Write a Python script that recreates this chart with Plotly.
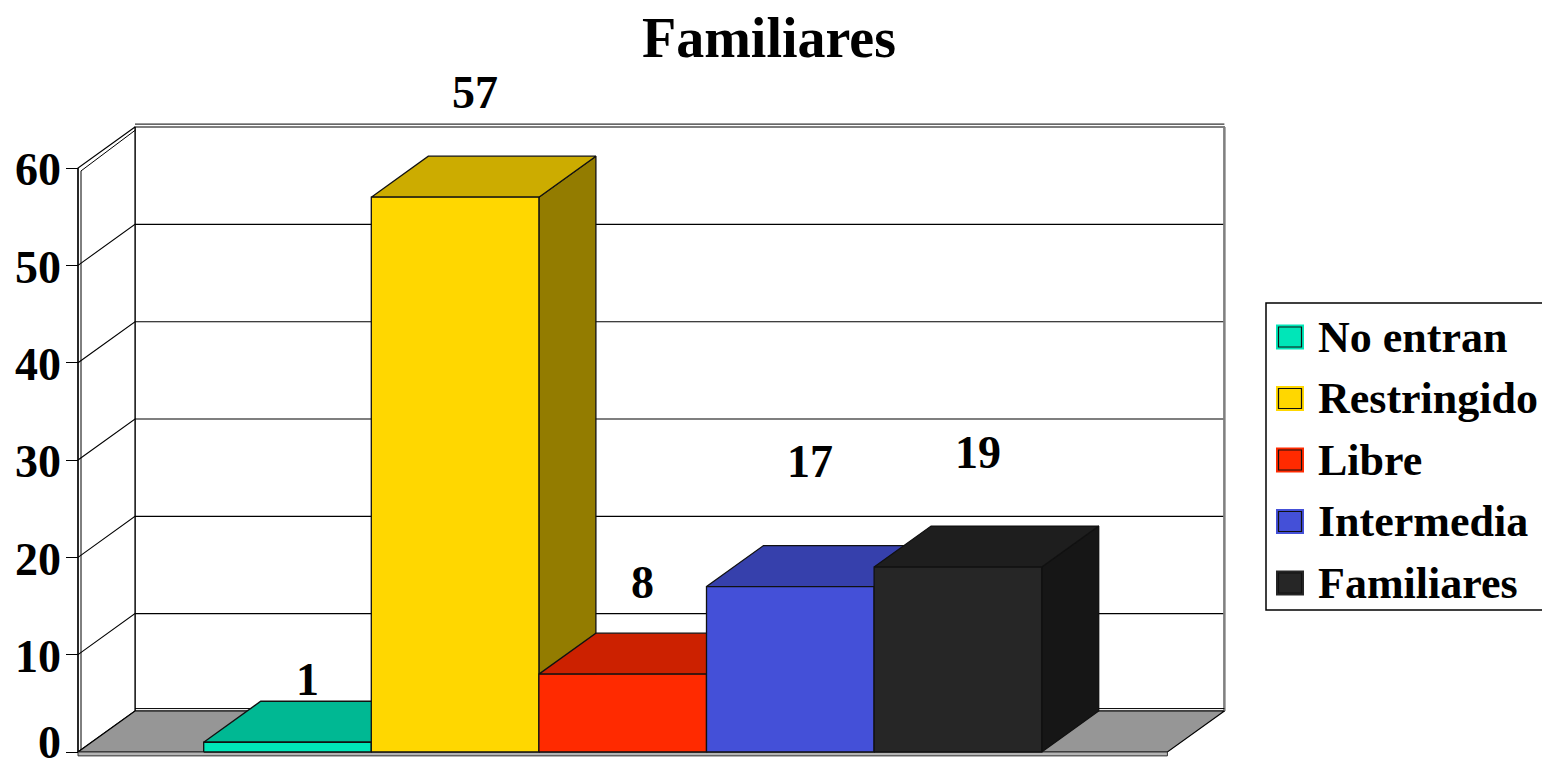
import plotly.graph_objects as go

# ---- data ----
categories = ["No entran", "Restringido", "Libre", "Intermedia", "Familiares"]
values = [1, 57, 8, 17, 19]
value_labels = ["1", "57", "8", "17", "19"]
y_ticks = [0, 10, 20, 30, 40, 50, 60]
y_tick_labels = ["0", "10", "20", "30", "40", "50", "60"]
title_text = "Familiares"

# ---- styles ----
front_colors = ["#00E6B8", "#FFD700", "#FF2A00", "#4450D8", "#262626"]
label_lift = [2.2, 6.5, 5.2, 8.6, 7.6]   # label offset above the 3D top (value units)

PAGE_OFF = 8                     # default body margin of the html page
W, H = 1550 - PAGE_OFF, 770 - PAGE_OFF
FONT = "Liberation Serif"
TICK_FS = 46

# geometry of the pseudo-3D scene (window pixel positions -> figure pixels)
UNIT_PX = 167.6          # px per category slot
AXIS_PX = 78 - PAGE_OFF  # px position of front value axis
VAL_PX = 9.733           # px per value unit
ZERO_PY = 752 - PAGE_OFF # px row of value 0 (front)
GAP = 0.75               # floor margin each side of the bars
DX, DY = 57 / UNIT_PX, 41 / VAL_PX   # depth offset

x_lo = -GAP - AXIS_PX / UNIT_PX
x_hi = x_lo + W / UNIT_PX
y_lo = -(H - ZERO_PY) / VAL_PX
y_hi = ZERO_PY / VAL_PX

n = len(categories)
xL, xR = -GAP, n + GAP
vmax = y_ticks[-1]


def px_x(px):
    return (px - PAGE_OFF) / W


def px_y(py):
    return 1 - (py - PAGE_OFF) / H


def shade(hexc, f):
    h = hexc.lstrip("#")
    r, g, b = (int(h[i:i + 2], 16) for i in (0, 2, 4))
    return "#%02X%02X%02X" % (int(r * f), int(g * f), int(b * f))


fig = go.Figure()


def poly(xs, ys, fill, line="#000000", lw=1.2):
    fig.add_trace(go.Scatter(
        x=list(xs) + [xs[0]], y=list(ys) + [ys[0]], mode="lines", fill="toself",
        fillcolor=fill, line=dict(color=line, width=lw), hoverinfo="skip",
        showlegend=False))


def line(xs, ys, color="#000000", lw=1.2):
    fig.add_trace(go.Scatter(x=xs, y=ys, mode="lines",
                             line=dict(color=color, width=lw),
                             hoverinfo="skip", showlegend=False))


# back wall (white) and left wall
poly([xL + DX, xR + DX, xR + DX, xL + DX], [DY, DY, vmax + DY, vmax + DY], "#FFFFFF", lw=1.2)
poly([xL, xL + DX, xL + DX, xL], [0, DY, vmax + DY, vmax], "#FFFFFF", lw=1.2)
# wall thickness (double edges)
t = 3 / UNIT_PX
line([xL + t, xL + t], [-0.3, vmax - 0.3], "#000000", 1)
line([xL + t, xL + DX + t * 0.2], [vmax - 0.3, vmax + DY - 0.3], "#000000", 1)
line([xL + DX, xR + DX], [vmax + DY + 0.3, vmax + DY + 0.3], "#000000", 1)

# gridlines: diagonal on left wall, horizontal on back wall
for v in y_ticks[1:-1]:
    line([xL, xL + DX, xR + DX], [v, v + DY, v + DY], "#000000", 1.1)
line([xR + DX, xR + DX], [DY, vmax + DY], "#808080", 2.5)

# floor slab
poly([xL, xR, xR + DX, xL + DX], [0, 0, DY, DY], "#969696", lw=1.2)
poly([xL, xR, xR, xL], [-0.4, -0.4, 0, 0], "#B4B4B4", line="#333333", lw=1)
line([xL + DX, xR + DX], [DY + 0.25, DY + 0.25], "#000000", 1)

# bars (left to right)
for i, (v, c) in enumerate(zip(values, front_colors)):
    x0, x1 = i, i + 1
    poly([x1, x1 + DX, x1 + DX, x1], [0, DY, v + DY, v], shade(c, 0.58), "#111111", 1.3)
    poly([x0, x1, x1 + DX, x0 + DX], [v, v, v + DY, v + DY], shade(c, 0.8), "#111111", 1.3)
    poly([x0, x1, x1, x0], [0, 0, v, v], c, "#111111", 1.3)

# front value axis edge
line([xL, xL], [0, vmax], "#000000", 1.2)

# value-axis tick labels (placed at the front axis, kept inside the page)
half_box = (TICK_FS * 1.16 / 2 + 1) / VAL_PX
for v, lab in zip(y_ticks, y_tick_labels):
    fig.add_annotation(x=xL, y=max(v - 0.2, y_lo + half_box), text=lab, showarrow=False,
                       xanchor="right", yanchor="middle", xshift=-15,
                       font=dict(family=FONT, size=TICK_FS, color="#000000", weight="bold"))

# value labels
for i, (v, lab) in enumerate(zip(values, value_labels)):
    fig.add_annotation(x=i + 0.5 + DX / 2 - 0.05, y=v + DY + label_lift[i], text=lab,
                       showarrow=False, xanchor="center", yanchor="middle",
                       font=dict(family=FONT, size=TICK_FS, color="#000000", weight="bold"))

# manual legend (window pixel positions)
LX0, LX1, LY0, LY1 = 1266, 1549, 303, 610
fig.add_shape(type="rect", xref="paper", yref="paper",
              x0=px_x(LX0), x1=px_x(LX1) - 0.0005, y0=px_y(LY1), y1=px_y(LY0),
              line=dict(color="#000000", width=1.5), fillcolor="#FFFFFF")
for k, (cat, c) in enumerate(zip(categories, front_colors)):
    cy = 337 + k * 61.5
    fig.add_shape(type="rect", xref="paper", yref="paper",
                  x0=px_x(1276), x1=px_x(1304), y0=px_y(cy + 12.5), y1=px_y(cy - 12.5),
                  line=dict(width=0), fillcolor=c)
    fig.add_shape(type="rect", xref="paper", yref="paper",
                  x0=px_x(1278.5), x1=px_x(1301.5), y0=px_y(cy + 10), y1=px_y(cy - 10),
                  line=dict(color="#111111", width=1.2), fillcolor=c)
    fig.add_annotation(xref="paper", yref="paper", x=px_x(1316), y=px_y(cy), text=cat,
                       showarrow=False, xanchor="left", yanchor="middle",
                       font=dict(family=FONT, size=44, color="#000000", weight="bold"))

fig.update_layout(
    width=W, height=H, autosize=False,
    margin=dict(l=0, r=0, t=0, b=0),
    paper_bgcolor="#FFFFFF", plot_bgcolor="#FFFFFF",
    showlegend=False,
    title=dict(text=title_text, x=px_x(769), xanchor="center", y=px_y(37), yanchor="middle",
               font=dict(family=FONT, size=56, color="#000000", weight="bold")),
    xaxis=dict(range=[x_lo, x_hi], visible=False, fixedrange=True),
    yaxis=dict(range=[y_lo, y_hi], anchor="free", position=AXIS_PX / W,
               tickvals=y_ticks, showticklabels=False,
               ticks="outside", ticklen=12, tickwidth=1.2, tickcolor="#000000",
               showgrid=False, zeroline=False, showline=False, automargin=False,
               fixedrange=True),
)

fig.write_html("out.html")
